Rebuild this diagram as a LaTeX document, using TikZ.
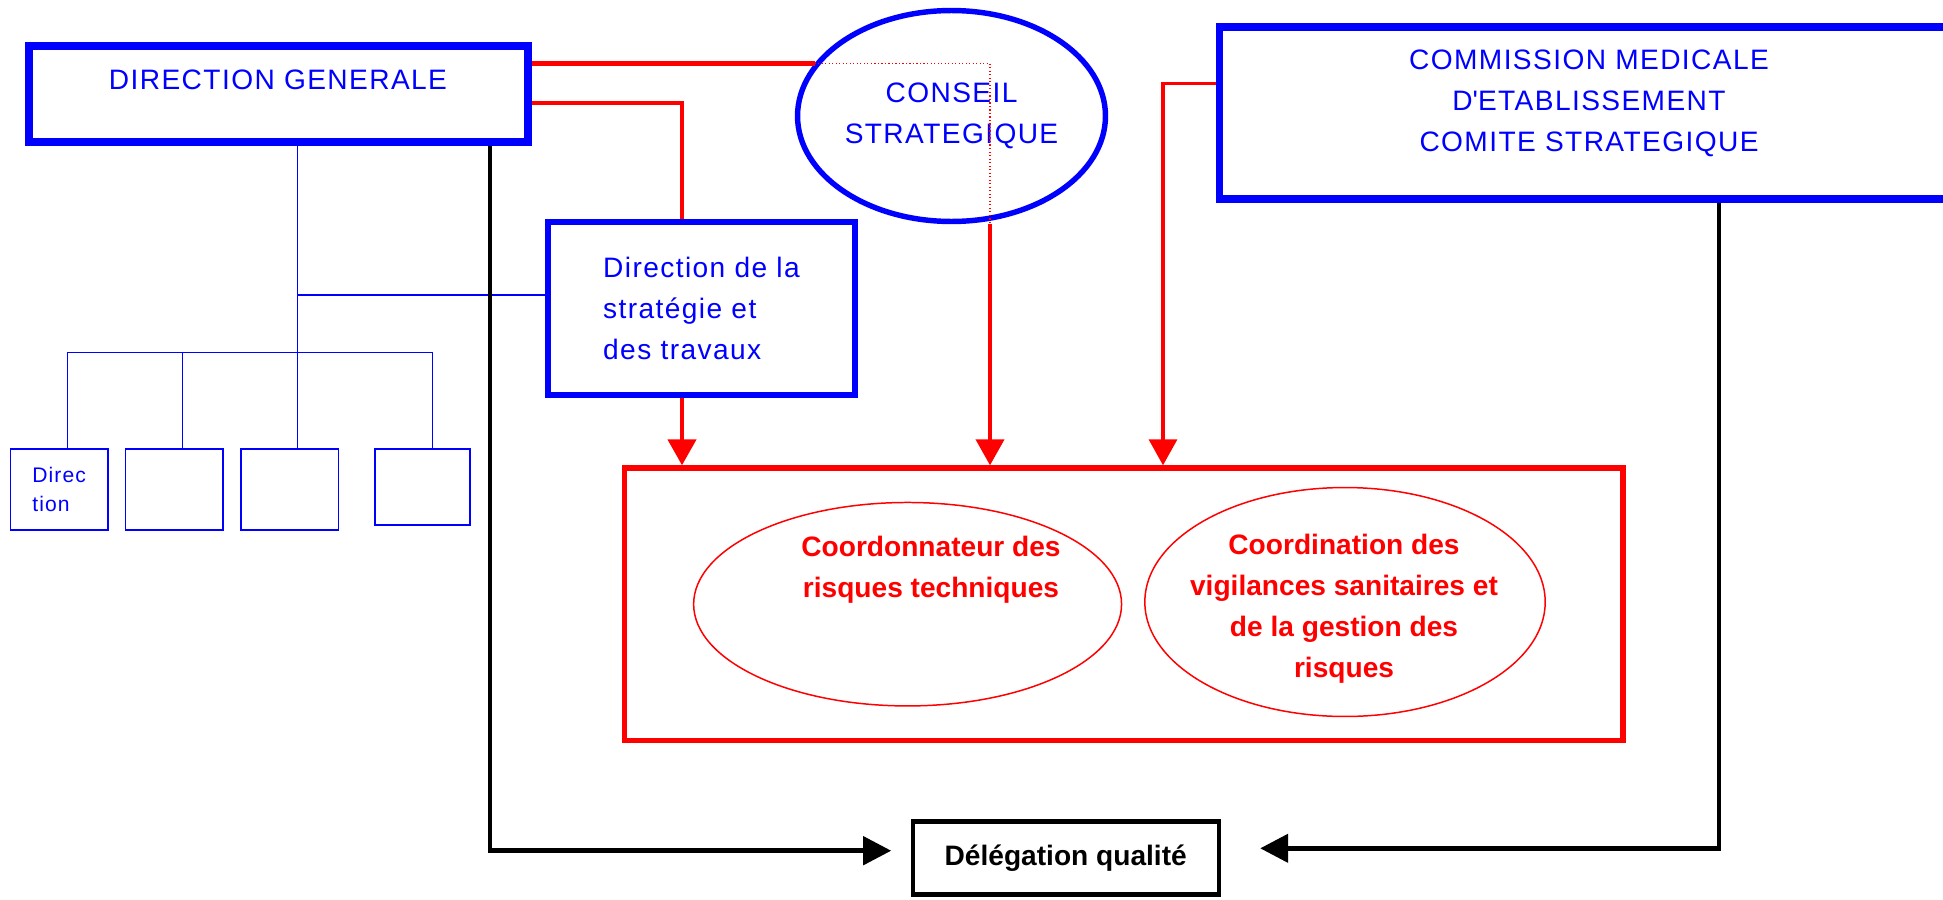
\documentclass[tikz,border=0pt]{standalone}
\usepackage{fontspec}
\setmainfont{Liberation Sans}
\newfontfamily\spaced[LetterSpace=5]{Liberation Sans}
\usepackage{tikz}
\usetikzlibrary{shapes,arrows.meta}
\tikzstyle{bigbox} = [rectangle, draw=blue, line width=4.4pt, inner sep=0pt]
\tikzstyle{midbox} = [rectangle, draw=blue, line width=3.1pt, inner sep=0pt]
\tikzstyle{subbox} = [rectangle, draw=blue, line width=1pt, inner sep=0pt,
minimum width=1.95cm, minimum height=1.62cm]
\tikzstyle{council} = [ellipse, draw=blue, line width=3.1pt, inner sep=0pt]
\tikzstyle{riskcloud} = [ellipse, draw=red, line width=0.85pt, inner sep=0pt]
\tikzstyle{qualbox} = [rectangle, draw=black, line width=2.3pt, inner sep=0pt,
minimum width=6.12cm, minimum height=1.46cm, font=\bfseries\fontsize{16}{19}\selectfont]
\tikzstyle{bluetext} = [text=blue, align=center, font=\spaced\fontsize{16}{23.3}\selectfont]
\tikzstyle{redtext} = [text=red, align=center, font=\bfseries\fontsize{16}{23.3}\selectfont]
\tikzstyle{tree} = [draw=blue, line width=0.9pt]
\tikzstyle{redline} = [draw=red, line width=2.5pt]
\tikzstyle{redarrow} = [redline, -{Triangle[length=5.2mm, width=5.6mm]}]
\tikzstyle{reddots} = [draw=red, line width=0.6pt, dash pattern=on 0.7pt off 1.3pt]
\tikzstyle{blackarrow} = [draw=black, line width=2.7pt, -{Triangle[length=5.6mm, width=5.6mm]}]

\begin{document}
\begin{tikzpicture}[x=0.02cm, y=-0.02cm]
\useasboundingbox (0,0) rectangle (1943,899);

% Place nodes
\node [bigbox, minimum width=9.98cm, minimum height=1.92cm] (dg) at (278.5,93.7) {};
\node [bluetext] (dgtext) at (278,80.3) {DIRECTION GENERALE};
\node [council, bluetext, minimum width=6.16cm, minimum height=4.22cm] (cs) at (951.5,116) {CONSEIL\\STRATEGIQUE};
\node [bigbox, minimum width=14.78cm, minimum height=3.44cm] (cm) at (1589,112.7) {};
\node [bluetext] (cmtext) at (1589,103) {COMMISSION MEDICALE\\D\textquotesingle ETABLISSEMENT\\COMITE STRATEGIQUE};
\node [midbox, bluetext, align=left, minimum width=6.14cm, minimum height=3.46cm] (ds) at (701.5,308.5) {Direction de la\\strat\'egie et\\des travaux};
\node [subbox, text=blue, align=left, font=\spaced\fontsize{12}{17}\selectfont] (b1) at (59.2,489.5) {Direc\\tion};
\node [subbox] (b2) at (174.3,489.5) {};
\node [subbox] (b3) at (289.8,489.5) {};
\node [subbox, minimum width=1.91cm, minimum height=1.52cm] (b4) at (422.5,487) {};
\node [midbox, draw=red, minimum width=19.97cm, minimum height=5.45cm] (rbox) at (1123.75,604.25) {};
\node [riskcloud, minimum width=8.56cm, minimum height=4.07cm] (rt) at (907.6,604.2) {};
\node [redtext] (rttext) at (931,570) {Coordonnateur des\\risques techniques};
\node [riskcloud, minimum width=8.01cm, minimum height=4.58cm] (rv) at (1345,602) {};
\node [redtext] (rvtext) at (1344,609) {Coordination des\\vigilances sanitaires et\\de la gestion des\\risques};
\node [qualbox] (dq) at (1065.7,858) {D\'el\'egation qualit\'e};

% Bend points
\coordinate (dsbend) at (682,103.3);
\coordinate (csdrop) at (990,0);
\coordinate (cmbend) at (1163,83.3);
\coordinate (hub) at (297.3,295);
\coordinate (bus1) at (67.7,352.7);
\coordinate (bus2) at (182.3,352.7);
\coordinate (bus3) at (297.3,352.7);
\coordinate (bus4) at (432.3,352.7);
\coordinate (dqleft) at (490,850.7);
\coordinate (dqright) at (1719,848.3);

% Draw edges
\path [tree] (bus3 |- dg.south) -- (bus3 |- b3.north);
\path [tree] (hub) -- (hub -| ds.west);
\path [tree] (bus1 |- b1.north) -- (bus1) -- (bus4) -- (bus4 |- b4.north);
\path [tree] (bus2) -- (bus2 |- b2.north);
\path [redline] (dg.east |- cs.159) -- (cs.159);
\path [reddots] (cs.159) -- (cs.159 -| csdrop) -- (csdrop |- cs.south);
\path [redarrow, line width=2.3pt] (csdrop |- cs.south) -- (csdrop |- rbox.north);
\path [redline] (dg.east |- dsbend) -- (dsbend) -- (dsbend |- ds.north);
\path [redarrow] (dsbend |- ds.south) -- (dsbend |- rbox.north);
\path [redarrow, line width=1.9pt] (cm.west |- cmbend) -- (cmbend) -- (cmbend |- rbox.north);
\path [blackarrow, shorten >=0.39cm] (dqleft |- dg.south) -- (dqleft) -- (dqleft -| dq.west);
\path [blackarrow, shorten >=0.79cm] (dqright |- cm.south) -- (dqright) -- (dqright -| dq.east);
\end{tikzpicture}
\end{document}
